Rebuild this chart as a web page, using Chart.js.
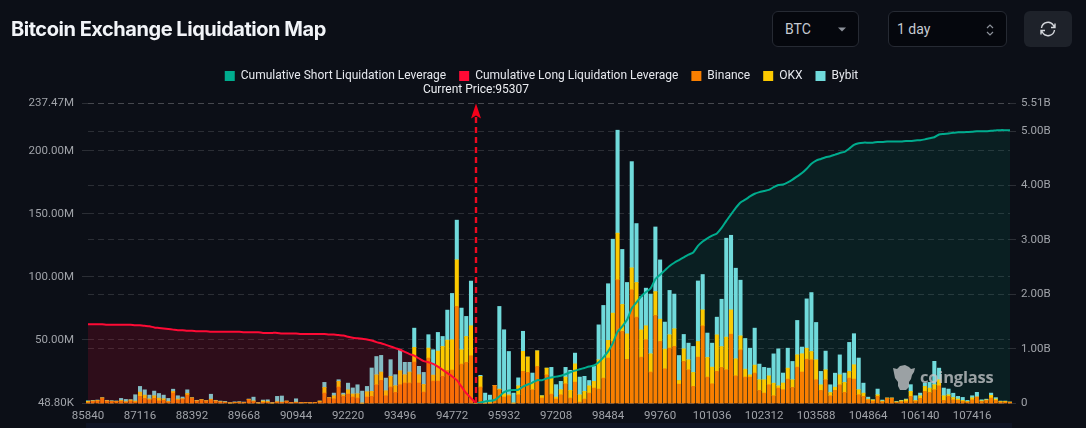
<!DOCTYPE html>
<html lang="en">
<head>
<meta charset="UTF-8">
<title>Bitcoin Exchange Liquidation Map</title>
<script src="https://cdn.jsdelivr.net/npm/chart.js@4"></script>
<style>
  html, body { margin: 0; padding: 0; background: #0c0f17; }
  #wrap { position: relative; width: 1086px; height: 428px; overflow: hidden; font-family: Inter, sans-serif; color: #e6e8ee; }
  canvas { position: absolute; left: 0; top: 0; }
  h1 { position: absolute; left: 11px; top: 16px; margin: 0; font-size: 20px; line-height: 26px; font-weight: 700; letter-spacing: -0.47px; color: #f2f4f8; white-space: nowrap; }
  .ctl { position: absolute; top: 11px; height: 36px; box-sizing: border-box; border: 1px solid #262a33; border-radius: 6px; background: #05070d; color: #c6cad2; font: 14px/34px Roboto, sans-serif; padding-left: 12px; }
  #sym { left: 772px; width: 87px; }
  #range { left: 888px; width: 119px; padding-left: 8px; }
  #refresh { position: absolute; left: 1024px; top: 11px; width: 48px; height: 36px; border-radius: 6px; background: #1e222a; }
  #sym svg, #range svg { position: absolute; right: 10px; top: 11px; }
  #refresh svg { position: absolute; left: 15px; top: 9px; }
  #strip { position: absolute; left: 86px; top: 423px; width: 926px; height: 5px; background: #0f1424; }
  #mark { position: absolute; left: 892px; top: 364px; width: 110px; height: 30px; opacity: .78; }
  #mark span { position: absolute; left: 28px; top: 0; font: 700 16.5px/26px "Open Sans", sans-serif; color: #c4c7c9; letter-spacing: -.2px; }
</style>
</head>
<body>
<div id="wrap">
  <div id="strip"></div>
  <canvas id="chart" width="1086" height="428"></canvas>
  <h1>Bitcoin Exchange Liquidation Map</h1>
  <div class="ctl" id="sym">BTC<svg width="12" height="12"><path d="M2 4.5h8L6 8.5z" fill="#8c919a"/></svg></div>
  <div class="ctl" id="range">1 day<svg width="12" height="14"><path d="M3 5l3-3 3 3M3 9l3 3 3-3" fill="none" stroke="#8c919a" stroke-width="1.2"/></svg></div>
  <div id="refresh"><svg width="18" height="18" viewBox="0 0 18 18" fill="none" stroke="#d4d7dc" stroke-width="1.4"><path d="M2.5 8A6.5 6.5 0 0 1 14.5 5.5L16 7.5M15.5 10A6.5 6.5 0 0 1 3.5 12.5L2 10.5M16 3.5v4h-4M2 14.500v-4h4"/></svg></div>
  <div id="mark">
    <svg width="24" height="27" viewBox="0 0 24 27" style="position:absolute;left:0;top:0"><path d="M1 4L5 5 8 2 13 1 17 3 19 5 23 4 22 8 20 11 19 15 17 18 17 23 14 26 8 26 6 22 6 18 3 14 2 9z" fill="#c4c7c9"/></svg>
    <span>coinglass</span>
  </div>
</div>
<script>
// axis labels
const prices = [
  85840, 85956, 86072, 86188, 86304, 86420, 86536, 86652, 86768, 86884, 87000, 87116, 87232, 87348, 87464, 87580,
  87696, 87812, 87928, 88044, 88160, 88276, 88392, 88508, 88624, 88740, 88856, 88972, 89088, 89204, 89320, 89436,
  89552, 89668, 89784, 89900, 90016, 90132, 90248, 90364, 90480, 90596, 90712, 90828, 90944, 91060, 91176, 91292,
  91408, 91524, 91640, 91756, 91872, 91988, 92104, 92220, 92336, 92452, 92568, 92684, 92800, 92916, 93032, 93148,
  93264, 93380, 93496, 93612, 93728, 93844, 93960, 94076, 94192, 94308, 94424, 94540, 94656, 94772, 94888, 95004,
  95120, 95236, 95307, 95352, 95468, 95584, 95700, 95816, 95932, 96048, 96164, 96280, 96396, 96512, 96628, 96744,
  96860, 96976, 97092, 97208, 97324, 97440, 97556, 97672, 97788, 97904, 98020, 98136, 98252, 98368, 98484, 98600,
  98716, 98832, 98948, 99064, 99180, 99296, 99412, 99528, 99644, 99760, 99876, 99992, 100108, 100224, 100340, 100456,
  100572, 100688, 100804, 100920, 101036, 101152, 101268, 101384, 101500, 101616, 101732, 101848, 101964, 102080, 102196, 102312,
  102428, 102544, 102660, 102776, 102892, 103008, 103124, 103240, 103356, 103472, 103588, 103704, 103820, 103936, 104052, 104168,
  104284, 104400, 104516, 104632, 104748, 104864, 104980, 105096, 105212, 105328, 105444, 105560, 105676, 105792, 105908, 106024,
  106140, 106256, 106372, 106488, 106604, 106720, 106836, 106952, 107068, 107184, 107300, 107416, 107532, 107648, 107764, 107880,
  107996, 108112, 108228, 108344
];
const xTickPrices = [85840, 87116, 88392, 89668, 90944, 92220, 93496, 94772, 95932, 97208, 98484, 99760, 101036, 102312, 103588, 104864, 106140, 107416];
const leftTicks = [0.0488, 50, 100, 150, 200, 237.47];   // millions
const rightTicks = [0, 1, 2, 3, 4, 5, 5.51];             // billions
const currentPrice = 95307;

// per-exchange liquidation leverage, millions
const binance = [
  0.5, 1.3, 1.6, 3.7, 1.6, 1.3, 1.1, 1.3, 0.8, 1.6, 0.8, 5.3, 3.7, 2.6, 3.7, 1.8,
  2.1, 0.8, 7.9, 2.4, 3.2, 6.3, 3.7, 1.6, 2.4, 1.6, 2.6, 1.6, 0.8, 0.5, 0.1, 0.3,
  0.5, 0.3, 2.6, 1.3, 0.1, 0.5, 0.5, 0.1, 0.8, 0.5, 1.3, 0.3, 0.5, 0.3, 0.3, 0.3,
  0.3, 0.8, 7.9, 4.0, 3.4, 12.7, 5.3, 7.1, 4.8, 4.0, 0, 4.8, 5.3, 14.5, 18.0, 5.8,
  12.7, 8.5, 14.5, 15.9, 15.9, 32.5, 15.9, 8.7, 35.7, 17.4, 17.4, 21.1, 25.9, 26.2, 76.6, 30.9,
  32.2, 37.5, 0, 12.7, 0, 0, 14.0, 10.6, 4.8, 5.8, 0, 6.6, 25.1, 24.3, 10.6, 29.0,
  4.0, 22.4, 7.1, 3.2, 6.6, 15.3, 4.0, 16.6, 0.8, 3.2, 7.9, 11.9, 11.1, 19.8, 35.7, 48.9,
  97.7, 56.8, 34.6, 89.8, 68.1, 36.4, 50.2, 24.6, 69.4, 48.8, 27.2, 43.6, 44.9, 15.0, 33.0, 26.4,
  13.2, 36.4, 61.2, 20.6, 15.3, 25.1, 28.2, 26.4, 54.6, 21.6, 42.2, 20.6, 20.6, 23.8, 10.0, 7.9,
  14.5, 5.8, 11.9, 10.6, 19.0, 12.4, 28.5, 24.6, 34.8, 34.3, 18.5, 10.0, 18.5, 5.8, 10.0, 14.5,
  8.5, 19.8, 19.0, 6.6, 5.3, 2.6, 1.6, 5.3, 1.1, 3.7, 3.7, 0.5, 1.1, 1.1, 5.3, 1.6,
  3.7, 9.2, 8.5, 10.6, 13.7, 2.1, 5.3, 2.6, 2.1, 1.3, 0.8, 2.6, 4.8, 1.3, 2.1, 4.0,
  2.1, 0.8, 0.8, 0.5
];
const okx = [
  0.8, 0.5, 0.5, 0.5, 0.3, 0.3, 0.3, 0.8, 0.3, 0.8, 0.8, 3.4, 2.6, 0.8, 2.1, 2.1,
  1.3, 0.5, 1.3, 0.8, 0.3, 1.3, 0.5, 0.3, 0.3, 0.3, 0.5, 0.3, 0.3, 0.3, 0.1, 0.2,
  0.3, 0, 0.3, 0.5, 0.1, 1.1, 0.8, 0.1, 0.3, 0.3, 0.3, 0.1, 0.3, 0.1, 0.1, 0.1,
  0.1, 0.8, 4.5, 0.3, 2.4, 4.5, 1.3, 3.4, 2.4, 3.4, 0, 4.2, 4.0, 7.9, 6.6, 4.0,
  8.5, 5.3, 11.1, 6.6, 8.7, 11.6, 6.6, 6.1, 7.9, 4.8, 23.8, 23.8, 24.0, 24.0, 37.0, 11.4,
  20.6, 23.8, 0, 8.5, 0, 0.5, 0, 0.5, 2.6, 0.8, 0, 7.1, 15.9, 12.2, 5.8, 12.4,
  1.8, 5.3, 12.7, 1.6, 4.0, 5.3, 6.1, 14.5, 5.8, 6.1, 5.8, 5.3, 23.2, 15.9, 14.0, 22.4,
  37.0, 21.4, 20.3, 17.4, 27.5, 21.6, 11.1, 14.5, 19.0, 17.7, 15.6, 10.6, 14.0, 2.9, 10.0, 7.9,
  11.1, 12.4, 12.7, 15.6, 13.2, 29.0, 16.6, 25.9, 19.3, 13.5, 11.1, 6.3, 1.8, 6.3, 8.5, 10.6,
  7.1, 10.0, 1.8, 5.3, 8.7, 6.1, 9.8, 14.5, 8.7, 6.6, 15.8, 4.5, 7.9, 2.6, 2.6, 7.9,
  7.9, 5.3, 11.4, 4.0, 2.6, 0.5, 0.8, 1.3, 0.5, 0.3, 0.3, 0.5, 0.8, 1.6, 4.0, 0.5,
  2.1, 4.0, 3.4, 4.0, 4.8, 3.7, 1.3, 1.8, 1.1, 0.8, 0.5, 1.6, 0, 0.5, 0.5, 2.1,
  1.1, 0.5, 0.5, 0.3
];
const bybit = [
  0.5, 0.3, 0.3, 0, 0.3, 0.3, 0.3, 1.6, 1.8, 0.3, 5.0, 4.5, 4.2, 2.9, 3.7, 3.7,
  2.9, 2.4, 1.8, 2.6, 1.3, 2.9, 0, 0.3, 0, 0, 3.9, 0.3, 0.5, 0.5, 0.1, 0.5,
  0.3, 0.5, 0.3, 2.9, 0.3, 0.8, 1.3, 0.3, 4.2, 4.8, 0, 0.1, 2.6, 0.1, 0.1, 0.1,
  0.1, 0, 4.0, 0, 2.1, 1.3, 1.3, 5.3, 4.8, 7.1, 9.5, 4.2, 18.5, 14.5, 13.2, 10.0,
  13.2, 8.7, 16.6, 9.8, 7.7, 15.3, 6.6, 9.5, 10.6, 20.1, 14.8, 7.9, 23.8, 36.7, 31.4, 33.0,
  15.9, 35.4, 0, 0.8, 7.9, 5.8, 0, 65.5, 50.7, 34.3, 7.9, 6.3, 15.9, 0, 7.4, 0,
  0, 0, 8.5, 9.8, 6.6, 7.7, 15.9, 8.5, 14.0, 11.9, 4.2, 11.9, 27.7, 41.7, 44.9, 58.6,
  81.6, 43.6, 40.7, 84.2, 46.7, 26.4, 29.8, 47.3, 51.2, 47.0, 21.4, 35.1, 27.5, 19.8, 11.4, 13.2,
  20.6, 48.0, 28.0, 19.3, 19.0, 14.0, 37.5, 78.4, 59.1, 71.8, 44.1, 24.3, 21.1, 29.3, 12.4, 9.8,
  6.1, 23.2, 29.3, 7.9, 15.8, 14.5, 27.2, 5.3, 39.1, 46.7, 29.6, 10.6, 14.8, 6.1, 11.1, 15.8,
  7.4, 23.0, 24.6, 25.1, 7.9, 1.6, 0.3, 4.5, 0.8, 0, 0, 0.3, 0.3, 0.5, 5.3, 3.7,
  2.1, 2.6, 4.5, 18.5, 9.2, 6.1, 4.5, 3.4, 2.1, 2.4, 0.8, 1.6, 3.7, 0.8, 0.5, 1.8,
  1.1, 0.3, 0.3, 0
];

// cumulative lines, billions; each side stops at the current price
const cumulativeLong = [
  1.45, 1.45, 1.45, 1.45, 1.44, 1.44, 1.44, 1.44, 1.44, 1.44, 1.43, 1.43, 1.42, 1.41, 1.39, 1.38,
  1.37, 1.36, 1.35, 1.34, 1.34, 1.33, 1.33, 1.32, 1.32, 1.32, 1.31, 1.31, 1.31, 1.31, 1.31, 1.31,
  1.31, 1.30, 1.30, 1.30, 1.30, 1.29, 1.29, 1.29, 1.29, 1.28, 1.28, 1.28, 1.28, 1.27, 1.27, 1.27,
  1.27, 1.27, 1.27, 1.26, 1.26, 1.25, 1.24, 1.22, 1.20, 1.19, 1.18, 1.17, 1.15, 1.12, 1.10, 1.07,
  1.04, 1.01, 0.98, 0.94, 0.90, 0.87, 0.82, 0.77, 0.75, 0.72, 0.67, 0.61, 0.55, 0.49, 0.42, 0.30,
  0.18, 0.09, 0
];
const cumulativeShort = [
  0, 0.01, 0.03, 0.04, 0.055, 0.12, 0.20, 0.23, 0.24, 0.245, 0.30, 0.34, 0.375, 0.42,
  0.42, 0.45, 0.47, 0.485, 0.50, 0.53, 0.565, 0.595, 0.62, 0.645, 0.67, 0.69, 0.75, 0.84, 0.95, 1.10,
  1.31, 1.41, 1.53, 1.74, 1.85, 1.96, 2.04, 2.11, 2.28, 2.36, 2.44, 2.52, 2.58, 2.63, 2.68, 2.73,
  2.77, 2.89, 2.97, 3.03, 3.08, 3.12, 3.22, 3.35, 3.47, 3.59, 3.69, 3.74, 3.80, 3.85, 3.88, 3.90,
  3.92, 3.97, 4.01, 4.02, 4.06, 4.11, 4.17, 4.23, 4.31, 4.40, 4.46, 4.49, 4.52, 4.54, 4.57, 4.60,
  4.62, 4.68, 4.75, 4.78, 4.79, 4.79, 4.79, 4.80, 4.80, 4.81, 4.81, 4.81, 4.81, 4.82, 4.82, 4.83,
  4.835, 4.85, 4.87, 4.89, 4.94, 4.95, 4.96, 4.97, 4.98, 4.98, 4.985, 4.99, 5.00, 5.00, 5.00, 5.01,
  5.015, 5.02, 5.02, 5.02
];
const shortStart = prices.indexOf(currentPrice);
const shortSeries = prices.map((_, i) => i < shortStart ? null : cumulativeShort[i - shortStart]);

// ---- colours
const TEAL = '#00ac8e';
const RED = '#ff0a35';
const C_BINANCE = '#f97f00';
const C_OKX = '#fcc900';
const C_BYBIT = '#70dadb';
const GRID = 'rgba(255,255,255,0.13)';
const TICK = '#a0a3a9';

// dashed marker and caption at the current price
const priceMarker = {
  id: 'priceMarker',
  afterDatasetsDraw(chart) {
    const { ctx, scales: { x }, chartArea: a } = chart;
    const px = Math.round(x.getPixelForValue(prices.indexOf(currentPrice)));
    ctx.save();
    ctx.strokeStyle = '#ee0a20';
    ctx.fillStyle = '#f5001a';
    ctx.lineWidth = 2.4;
    ctx.setLineDash([6, 4]);
    ctx.beginPath();
    ctx.moveTo(px, a.bottom);
    ctx.lineTo(px, a.top + 10);
    ctx.stroke();
    ctx.setLineDash([]);
    ctx.beginPath();
    ctx.moveTo(px, a.top);
    ctx.lineTo(px + 5, a.top + 15);
    ctx.lineTo(px, a.top + 12);
    ctx.lineTo(px - 5, a.top + 15);
    ctx.closePath();
    ctx.fill();
    ctx.fillStyle = '#eceef2';
    ctx.font = '12px Roboto';
    ctx.textAlign = 'center';
    ctx.textBaseline = 'middle';
    ctx.fillText('Current Price:' + currentPrice, px, 90);
    ctx.restore();
  }
};

// legend keeps a fixed height so the plot top stays where it should
const legendHeight = {
  id: 'legendHeight',
  beforeLayout(chart) {
    const lg = chart.legend;
    if (lg && !lg._pinned) {
      const fit = lg.fit;
      lg.fit = function () { fit.call(this); this.height = 46.5; };
      lg._pinned = true;
    }
  },
  afterLayout(chart) {
    chart.legend.right -= 3;
  }
};

new Chart(document.getElementById('chart'), {
  data: {
    labels: prices,
    datasets: [
      {
        type: 'line', label: 'Cumulative Short Liquidation Leverage', yAxisID: 'y1', order: 0,
        data: shortSeries,
        borderColor: TEAL, borderWidth: 2, pointRadius: 0, fill: false, tension: 0.2
      },
      {
        type: 'line', label: 'Cumulative Long Liquidation Leverage', yAxisID: 'y1', order: 0,
        data: cumulativeLong,
        borderColor: RED, backgroundColor: 'rgba(255,10,53,0.14)', borderWidth: 2,
        pointRadius: 0, fill: 'origin', tension: 0.2
      },
      { type: 'bar', label: 'Binance', data: binance, backgroundColor: C_BINANCE, order: 1, clip: false, barThickness: 3.4, stack: 'ex' },
      { type: 'bar', label: 'OKX', data: okx, backgroundColor: C_OKX, order: 1, clip: false, barThickness: 3.4, stack: 'ex' },
      { type: 'bar', label: 'Bybit', data: bybit, backgroundColor: C_BYBIT, order: 1, clip: false, barThickness: 3.4, stack: 'ex' },
      // area under the short line sits behind the bars
      {
        type: 'line', label: 'short area', yAxisID: 'y1', order: 2,
        data: shortSeries,
        borderWidth: 0, backgroundColor: 'rgba(0,172,142,0.10)', pointRadius: 0, fill: 'origin', tension: 0.2
      }
    ]
  },
  options: {
    responsive: false,
    animation: false,
    layout: { padding: { top: 57, left: 0, right: 0, bottom: 0 } },
    plugins: {
      legend: {
        position: 'top',
        labels: {
          color: '#e6e8ee', font: { family: 'Roboto', size: 12 }, boxWidth: 10, boxHeight: 10, padding: 13,
          filter: item => item.text !== 'short area',
          generateLabels(chart) {
            return chart.data.datasets.map((d, i) => ({
              text: d.label,
              fillStyle: d.type === 'line' ? d.borderColor : d.backgroundColor,
              strokeStyle: 'transparent',
              lineWidth: 0,
              fontColor: '#e6e8ee',
              datasetIndex: i
            }));
          }
        }
      },
      tooltip: { enabled: false }
    },
    scales: {
      x: {
        stacked: true,
        offset: false,
        grid: { display: false, drawTicks: false },
        border: { display: false },
        afterFit(s) { s.height = 25; },
        ticks: {
          autoSkip: false, maxRotation: 0, minRotation: 0, padding: 6,
          color: TICK, font: { family: 'Roboto', size: 11.5 },
          callback(v) { const p = prices[v]; return xTickPrices.includes(p) ? String(p) : ''; }
        }
      },
      y: {
        position: 'left', stacked: true,
        min: leftTicks[0], max: leftTicks[leftTicks.length - 1],
        afterFit(s) { s.width = 88; },
        afterBuildTicks(s) { s.ticks = leftTicks.map(v => ({ value: v })); },
        border: { display: false, dash: [6, 4] },
        grid: { color: GRID, tickColor: GRID, tickLength: 6, tickBorderDash: [6, 4] },
        ticks: {
          padding: 8, color: TICK, font: { family: 'Roboto', size: 11.5 },
          callback(v) { return v < 1 ? (v * 1000).toFixed(2) + 'K' : v.toFixed(2) + 'M'; }
        }
      },
      y1: {
        position: 'right',
        min: rightTicks[0], max: rightTicks[rightTicks.length - 1],
        afterFit(s) { s.width = 76; },
        afterBuildTicks(s) { s.ticks = rightTicks.map(v => ({ value: v })); },
        border: { display: false, dash: [6, 4] },
        grid: { color: GRID, tickColor: GRID, tickLength: 8, tickBorderDash: [6, 4] },
        ticks: {
          padding: 3, color: TICK, font: { family: 'Roboto', size: 11.5 },
          callback(v) { return v === 0 ? '0' : v.toFixed(2) + 'B'; }
        }
      }
    }
  },
  plugins: [priceMarker, legendHeight]
});
</script>
</body>
</html>
